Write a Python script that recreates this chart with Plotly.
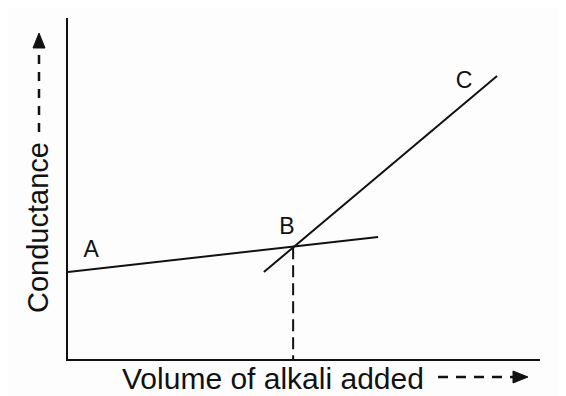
import plotly.graph_objects as go

# Data (arbitrary units)
line_a_x = [0.0, 6.57]
line_a_y = [2.55, 3.58]
line_bc_x = [4.15, 9.09]
line_bc_y = [2.55, 8.30]
end_point_x = [4.77, 4.77]
end_point_y = [3.28, 0.0]
label_text = ["A", "B", "C"]
label_x = [0.49, 4.64, 8.39]
label_y = [3.17, 3.84, 8.12]
x_title = "Volume of alkali added"
y_title = "Conductance"

OFF = 8  # default page body margin
W, H = 566 - OFF, 396 - OFF
L, R, T, B = 68 - OFF, 26, 18 - OFF, 37
PW, PH = W - L - R, H - T - B


def px(x):
    return (x - OFF - L) / PW


def py(y):
    return (OFF + H - B - y) / PH


FONT = "Liberation Sans, Arial, sans-serif"

fig = go.Figure()
fig.add_trace(go.Scatter(x=line_a_x, y=line_a_y, mode="lines",
                         line=dict(color="#111", width=2), showlegend=False))
fig.add_trace(go.Scatter(x=line_bc_x, y=line_bc_y, mode="lines",
                         line=dict(color="#111", width=2), showlegend=False))
fig.add_trace(go.Scatter(x=end_point_x, y=end_point_y, mode="lines",
                         line=dict(color="#111", width=2, dash="12px,6px"),
                         showlegend=False))
fig.add_trace(go.Scatter(x=label_x, y=label_y, mode="text", text=label_text,
                         textfont=dict(family=FONT, size=23, color="#111"),
                         showlegend=False))

shapes = [
    dict(type="line", xref="paper", yref="paper", x0=px(39), x1=px(39),
         y0=py(132), y1=py(47), line=dict(color="#111", width=2.5, dash="9px,8px")),
    dict(type="path", xref="paper", yref="paper",
         path=f"M {px(33)} {py(48)} L {px(45)} {py(48)} L {px(39)} {py(33)} Z",
         fillcolor="#111", line=dict(color="#111", width=1)),
    dict(type="line", xref="paper", yref="paper", x0=px(438), x1=px(514),
         y0=py(377), y1=py(377), line=dict(color="#111", width=2.5, dash="10px,8px")),
    dict(type="path", xref="paper", yref="paper",
         path=f"M {px(513)} {py(371)} L {px(513)} {py(383)} L {px(528)} {py(377)} Z",
         fillcolor="#111", line=dict(color="#111", width=1)),
]

annotations = [
    dict(text=x_title, xref="paper", yref="paper", x=px(273), y=py(378),
         showarrow=False, xanchor="center", yanchor="middle",
         font=dict(family=FONT, size=30, color="#111")),
    dict(text=y_title, xref="paper", yref="paper", x=px(38), y=py(228),
         showarrow=False, xanchor="center", yanchor="middle", textangle=-90,
         font=dict(family=FONT, size=29, color="#111")),
]

fig.update_layout(
    width=W, height=H,
    margin=dict(l=L, r=R, t=T, b=B),
    paper_bgcolor="#fdfdfd", plot_bgcolor="#fdfdfd",
    shapes=shapes, annotations=annotations,
    xaxis=dict(range=[0, 10], showgrid=False, zeroline=False, showticklabels=False,
               ticks="", showline=True, linecolor="#111", linewidth=2, fixedrange=True),
    yaxis=dict(range=[0, 10], showgrid=False, zeroline=False, showticklabels=False,
               ticks="", showline=True, linecolor="#111", linewidth=2, fixedrange=True),
)

fig.write_html("out.html", config={"displayModeBar": False})
